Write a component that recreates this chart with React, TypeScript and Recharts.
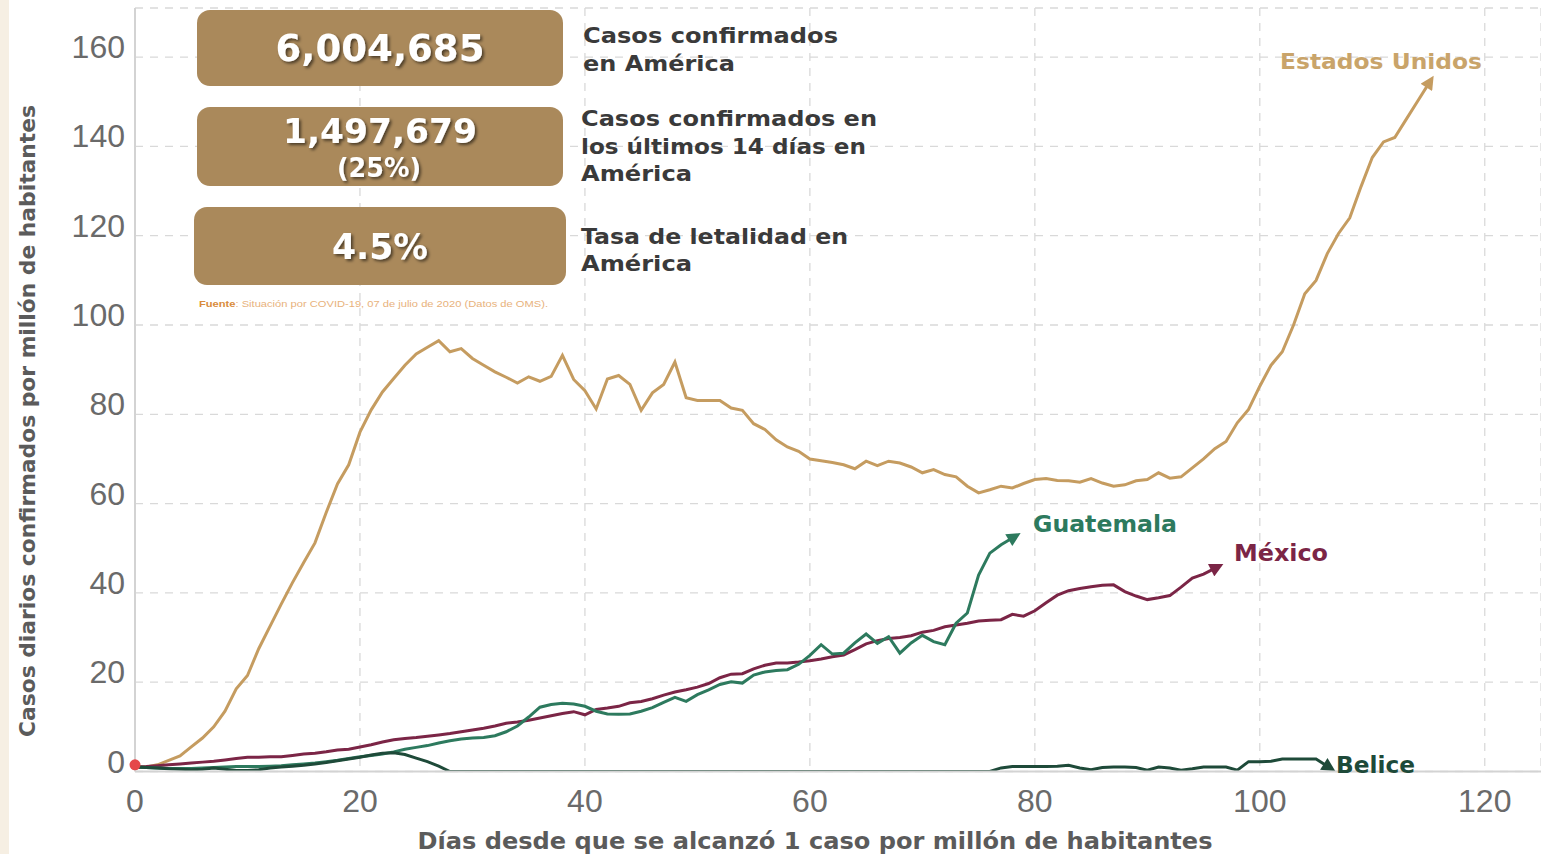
import React from 'react';
import { LineChart, Line, XAxis, YAxis, CartesianGrid, ReferenceDot } from 'recharts';

// Days since 1 case per million (index = day)
const usValues = [
  1, 1, 1.5, 2.5, 3.5, 5.5, 7.5, 10, 13.5, 18.5,
  21.5, 27.5, 32.5, 37.5, 42.3, 46.8, 51.2, 58, 64.4, 68.7,
  76, 81, 85, 88, 91, 93.5, 95, 96.5, 94, 94.7,
  92.5, 91, 89.5, 88.3, 87, 88.4, 87.4, 88.5, 93.2, 87.8,
  85.3, 81.2, 87.9, 88.7, 86.7, 80.9, 84.8, 86.7, 91.7, 83.7,
  83.1, 83.1, 83.1, 81.4, 80.9, 77.9, 76.6, 74.3, 72.7, 71.7,
  70, 69.6, 69.2, 68.7, 67.8, 69.5, 68.5, 69.5, 69.1, 68.2,
  66.9, 67.6, 66.5, 66, 63.9, 62.4, 63.1, 63.9, 63.5, 64.5,
  65.4, 65.6, 65.2, 65.1, 64.8, 65.6, 64.6, 63.9, 64.2, 65.1,
  65.4, 66.9, 65.7, 66, 68, 70, 72.3, 73.9, 78.1, 81.1,
  86.3, 91, 94, 100, 107, 110, 116, 120.5, 124, 131,
  137.5, 141, 142, 146, 150, 154,
];

const mexicoValues = [
  1.0, 1.1, 1.3, 1.5, 1.7, 1.9, 2.1, 2.3, 2.6, 2.9,
  3.2, 3.2, 3.3, 3.3, 3.6, 3.9, 4.1, 4.4, 4.8, 5.0,
  5.5, 6.0, 6.6, 7.1, 7.4, 7.6, 7.9, 8.2, 8.5, 8.9,
  9.3, 9.7, 10.2, 10.8, 11.1, 11.5, 12.0, 12.5, 13.0, 13.4,
  12.7, 13.9, 14.2, 14.6, 15.4, 15.7, 16.3, 17.1, 17.8, 18.3,
  18.9, 19.7, 21.0, 21.8, 21.9, 23.0, 23.8, 24.3, 24.3, 24.5,
  24.8, 25.2, 25.7, 26.1, 27.3, 28.6, 29.3, 29.8, 30.0, 30.4,
  31.2, 31.6, 32.4, 32.8, 33.2, 33.7, 33.9, 34.0, 35.2, 34.8,
  36.0, 37.8, 39.5, 40.5, 41.0, 41.4, 41.7, 41.8, 40.3, 39.3,
  38.5, 38.9, 39.4, 41.3, 43.3, 44.2, 45.5,
];

const guatemalaValues = [
  1.0, 0.9, 0.8, 0.7, 0.7, 0.7, 0.8, 0.9, 1.0, 1.1,
  1.1, 1.1, 1.2, 1.3, 1.5, 1.7, 1.9, 2.2, 2.5, 2.9,
  3.3, 3.6, 3.9, 4.4, 5.0, 5.4, 5.8, 6.4, 6.9, 7.3,
  7.5, 7.6, 8.0, 8.9, 10.2, 12.2, 14.4, 15.0, 15.3, 15.1,
  14.6, 13.5, 12.9, 12.8, 12.9, 13.5, 14.3, 15.5, 16.6, 15.7,
  17.2, 18.3, 19.5, 20.1, 19.8, 21.6, 22.3, 22.6, 22.8, 24.0,
  26.0, 28.4, 26.3, 26.5, 28.8, 30.8, 28.7, 30.2, 26.5, 28.8,
  30.5, 29.1, 28.4, 33.2, 35.5, 44.0, 48.9, 50.8, 52.3,
];

const beliceValues = [
  1.0, 0.9, 0.8, 0.6, 0.5, 0.4, 0.5, 0.8, 0.5, 0.2,
  0.2, 0.4, 0.8, 1.0, 1.2, 1.4, 1.7, 2.0, 2.4, 2.8,
  3.2, 3.7, 4.1, 4.2, 3.8, 3.0, 2.2, 1.2,
  0, 0, 0, 0, 0, 0, 0, 0, 0, 0,
  0, 0, 0, 0, 0, 0, 0, 0, 0, 0,
  0, 0, 0, 0, 0, 0, 0, 0, 0, 0,
  0, 0, 0, 0, 0, 0, 0, 0, 0, 0,
  0, 0, 0, 0, 0, 0, 0, 0, 0,
  0.8, 1.1, 1.1, 1.1, 1.1, 1.2, 1.4, 0.8, 0.4, 0.9,
  1.0, 1.0, 0.9, 0.3, 1.0, 0.8, 0.3, 0.6, 1.0, 1.0,
  1.0, 0.3, 2.2, 2.2, 2.3, 2.8, 2.8, 2.8, 2.8, 1.2,
];

const xTicks = [0, 20, 40, 60, 80, 100, 120];
const yTicks = [0, 20, 40, 60, 80, 100, 120, 140, 160];

const COLORS = {
  us: '#c59c60',
  usLabel: '#c9a46a',
  mx: '#7b2546',
  gt: '#2d7a5e',
  bz: '#1e4a39',
};

const W = 1541;
const H = 854;

const toSeries = (vals: number[]) => vals.map((v, i) => ({ day: i, value: v }));

const XTick = (props: any) => {
  const { x, y, payload } = props;
  return (
    <text x={x} y={y + 29} textAnchor="middle" dominantBaseline="central"
      fontFamily="'Liberation Sans', Arial, sans-serif" fontSize={32} fill="#6a6a6a">
      {payload.value}
    </text>
  );
};

const YTick = (props: any) => {
  const { x, y, payload } = props;
  return (
    <text x={x} y={y - 10} textAnchor="end" dominantBaseline="central"
      fontFamily="'Liberation Sans', Arial, sans-serif" fontSize={32} fill="#6a6a6a">
      {payload.value}
    </text>
  );
};

const boldFont = "'DejaVu Sans', sans-serif";

export default function App() {
  const usData = toSeries(usValues);
  const mxData = toSeries(mexicoValues);
  const gtData = toSeries(guatemalaValues);
  const bzData = toSeries(beliceValues);

  const marker = (id: string, color: string) => (
    <marker id={id} viewBox="0 0 10 10" refX="3" refY="5" markerWidth="5" markerHeight="4.6"
      orient="auto" markerUnits="strokeWidth">
      <path d="M0,0 L10,5 L0,10 z" fill={color} />
    </marker>
  );

  const infoText = (x: number, y: number, s: string, len: number) => (
    <text x={x} y={y} dominantBaseline="central" fontFamily={boldFont} fontWeight="bold"
      fontSize={22} fill="#3a3a3a" textLength={len} lengthAdjust="spacingAndGlyphs">{s}</text>
  );

  return (
    <div style={{ position: 'absolute', left: 0, top: 0, width: W, height: H, background: '#ffffff', overflow: 'hidden' }}>
      <svg width="0" height="0" style={{ position: 'absolute' }}>
        <defs>
          {marker('arrUS', COLORS.us)}
          {marker('arrMX', COLORS.mx)}
          {marker('arrGT', COLORS.gt)}
          {marker('arrBZ', COLORS.bz)}
        </defs>
      </svg>
      <div style={{ position: 'absolute', left: 0, top: 0, width: 9, height: H, background: '#f6efe3' }} />
      <div style={{ position: 'absolute', left: 0, top: 0 }}>
        <LineChart width={W} height={H} margin={{ top: 8, right: 0, bottom: 0, left: 0 }}>
          <CartesianGrid stroke="#d9d9d9" strokeDasharray="8 7" strokeWidth={1.3} />
          <XAxis type="number" dataKey="day" domain={[0, 125]} ticks={xTicks} height={82.5}
            axisLine={{ stroke: '#d3d3d3', strokeWidth: 2 }} tickLine={false} tickSize={0} tickMargin={0}
            tick={<XTick />} allowDataOverflow />
          <YAxis type="number" domain={[0, 171]} ticks={yTicks} width={135}
            axisLine={{ stroke: '#d3d3d3', strokeWidth: 2 }} tickLine={false} tickSize={0} tickMargin={10}
            tick={<YTick />} allowDataOverflow />
          <Line data={usData} dataKey="value" stroke={COLORS.us} strokeWidth={3} dot={false} activeDot={false}
            isAnimationActive={false} type="linear" markerEnd="url(#arrUS)" />
          <Line data={mxData} dataKey="value" stroke={COLORS.mx} strokeWidth={3} dot={false} activeDot={false}
            isAnimationActive={false} type="linear" markerEnd="url(#arrMX)" />
          <Line data={gtData} dataKey="value" stroke={COLORS.gt} strokeWidth={3} dot={false} activeDot={false}
            isAnimationActive={false} type="linear" markerEnd="url(#arrGT)" />
          <Line data={bzData} dataKey="value" stroke={COLORS.bz} strokeWidth={3} dot={false} activeDot={false}
            isAnimationActive={false} type="linear" markerEnd="url(#arrBZ)" />
          <ReferenceDot x={0} y={1.5} r={5.5} fill="#e5484a" stroke="none" />
        </LineChart>
      </div>
      <svg width={W} height={H} style={{ position: 'absolute', left: 0, top: 0, pointerEvents: 'none' }}>
        <defs>
          <filter id="tshadow" x="-10%" y="-30%" width="130%" height="170%">
            <feDropShadow dx="2" dy="2" stdDeviation="1.5" floodColor="#000" floodOpacity="0.55" />
          </filter>
        </defs>
        {/* info boxes */}
        <rect x={197} y={10} width={366} height={76} rx={13} fill="#aa895b" />
        <rect x={197} y={107} width={366} height={79} rx={13} fill="#aa895b" />
        <rect x={194} y={207} width={372} height={78} rx={13} fill="#aa895b" />
        <g fontFamily={boldFont} fontWeight="bold" fill="#ffffff" textAnchor="middle" filter="url(#tshadow)">
          <text x={380} y={48} dominantBaseline="central" fontSize={37} textLength={209} lengthAdjust="spacingAndGlyphs">6,004,685</text>
          <text x={380} y={131} dominantBaseline="central" fontSize={34} textLength={194} lengthAdjust="spacingAndGlyphs">1,497,679</text>
          <text x={379} y={168} dominantBaseline="central" fontSize={26} textLength={84} lengthAdjust="spacingAndGlyphs">(25%)</text>
          <text x={380} y={247} dominantBaseline="central" fontSize={35} textLength={96} lengthAdjust="spacingAndGlyphs">4.5%</text>
        </g>
        {infoText(583, 35, 'Casos confirmados', 255)}
        {infoText(583, 63, 'en América', 152)}
        {infoText(581, 118, 'Casos confirmados en', 296)}
        {infoText(581, 146, 'los últimos 14 días en', 285)}
        {infoText(581, 173, 'América', 111)}
        {infoText(581, 236, 'Tasa de letalidad en', 267)}
        {infoText(581, 263, 'América', 111)}
        <text x={199} y={304} dominantBaseline="central" fontFamily="'Liberation Sans', Arial, sans-serif"
          fontSize={9} fill="#e8b27c" textLength={349} lengthAdjust="spacingAndGlyphs">
          <tspan fontWeight="bold" fill="#d98c3c">Fuente</tspan>: Situación por COVID-19, 07 de julio de 2020 (Datos de OMS).
        </text>
        {/* series labels */}
        <g fontFamily={boldFont} fontWeight="bold">
          <text x={1280} y={61} dominantBaseline="central" fontSize={22} fill={COLORS.usLabel} textLength={202} lengthAdjust="spacingAndGlyphs">Estados Unidos</text>
          <text x={1033} y={524} dominantBaseline="central" fontSize={23} fill={COLORS.gt} textLength={144} lengthAdjust="spacingAndGlyphs">Guatemala</text>
          <text x={1234} y={553} dominantBaseline="central" fontSize={23} fill={COLORS.mx} textLength={94} lengthAdjust="spacingAndGlyphs">México</text>
          <text x={1336} y={765} dominantBaseline="central" fontSize={23} fill={COLORS.bz} textLength={79} lengthAdjust="spacingAndGlyphs">Belice</text>
        </g>
        {/* axis titles */}
        <text x={815} y={841} textAnchor="middle" dominantBaseline="central" fontFamily={boldFont} fontWeight="bold"
          fontSize={23} fill="#5b5b5b" textLength={795} lengthAdjust="spacingAndGlyphs">
          Días desde que se alcanzó 1 caso por millón de habitantes
        </text>
        <text x={27} y={421} transform="rotate(-90 27 421)" textAnchor="middle" dominantBaseline="central"
          fontFamily={boldFont} fontWeight="bold" fontSize={22} fill="#5b5b5b" textLength={632} lengthAdjust="spacingAndGlyphs">
          Casos diarios confirmados por millón de habitantes
        </text>
      </svg>
    </div>
  );
}
